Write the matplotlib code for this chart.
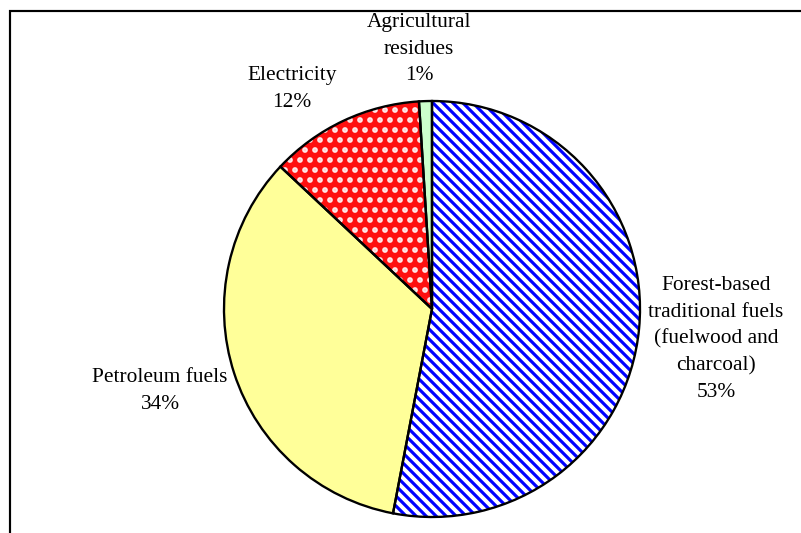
import matplotlib
matplotlib.use('Agg')
import matplotlib.pyplot as plt
from matplotlib.patches import Rectangle

# data, clockwise from 12 o'clock
categories = ['Forest-based\ntraditional fuels\n(fuelwood and\ncharcoal)',
              'Petroleum fuels', 'Electricity', 'Agricultural\nresidues']
shares = [53, 34, 12, 1]

# styles
face_colors = ['white', '#FFFF99', '#FF1010', '#CCFFCC']
hatch_colors = ['#0000FF', 'none', '#FFE8E8', 'none']
hatches = ['\\\\\\\\', '', '..', '']
hatch_widths = [1.9, 1.0, 2.2, 1.0]
label_pos = [(716, 339), (160, 391), (292, 89), (419, 49)]  # pixels, y down

DPI = 120
W, H = 801, 533

plt.rcParams['font.family'] = ['Liberation Serif', 'DejaVu Serif']
plt.rcParams['hatch.linewidth'] = 1.9

fig = plt.figure(figsize=(W / DPI, H / DPI), dpi=DPI)
ax = fig.add_axes([0, 0, 1, 1])

center = (432, H - 309)
radius = 208
wedges, _ = ax.pie(shares, startangle=90, counterclock=False, center=center,
                   radius=radius, colors=face_colors, hatch=hatches,
                   wedgeprops=dict(linewidth=0))
for w_, hc, hw in zip(wedges, hatch_colors, hatch_widths):
    w_.set_edgecolor(hc)
    if hasattr(w_, 'set_hatch_linewidth'):
        w_.set_hatch_linewidth(hw)

# black outlines on top
ax.pie(shares, startangle=90, counterclock=False, center=center,
       radius=radius, wedgeprops=dict(fill=False, edgecolor='black',
                                      linewidth=1.4))

for name, val, (px, py) in zip(categories, shares, label_pos):
    ax.text(px, H - py, '%s\n%d%%' % (name, val), ha='center', va='center',
            fontsize=12.8, linespacing=1.52, color='black')

# chart area border (cropped on the right and bottom)
ax.add_patch(Rectangle((10, -20), 900, H - 11 + 20, fill=False,
                       edgecolor='black', linewidth=1.3))

ax.set_xlim(0, W)
ax.set_ylim(0, H)
ax.set_aspect('auto')
ax.axis('off')

fig.savefig('out.png', dpi=DPI)
